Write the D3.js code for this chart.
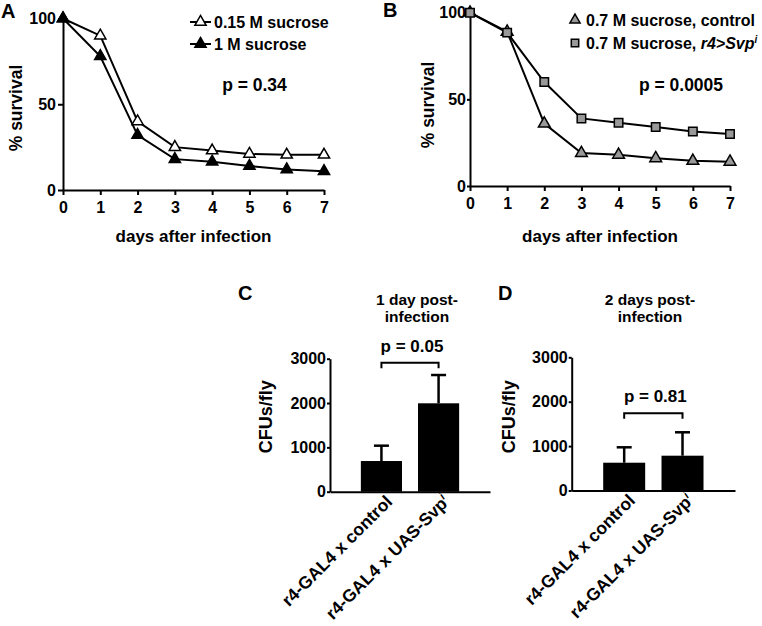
<!DOCTYPE html>
<html><head><meta charset="utf-8">
<script src="https://cdn.jsdelivr.net/npm/d3@7/dist/d3.min.js"></script>
<style>
body{margin:0;background:#fff;}
svg{display:block;font-family:"Liberation Sans",Arial,Helvetica,sans-serif;font-weight:bold;}
</style></head><body>
<svg id="c" width="762" height="626"></svg>
<script>
// ---- data ----
const days = [0,1,2,3,4,5,6,7];
const survivalTicks = [0,50,100];
const survA_015 = [100, 90, 40, 25, 23, 21, 20.5, 20.5];
const survA_1M  = [100, 78, 32, 18, 16.5, 14, 12, 11];
const survB_control = [100, 89, 36, 19, 18, 16, 14.5, 14];
const survB_svp     = [100, 88.5, 60, 39, 36.5, 34, 31.5, 30];
const barCategories = ["r4-GAL4 x control", "r4-GAL4 x UAS-Svp"];
const cfuTicks = [0,1000,2000,3000];
const cfuDay1 = [692, 1994];
const semDay1 = [346, 638];
const cfuDay2 = [626, 784];
const semDay2 = [347, 527];

const svg = d3.select("#c");
const lw = 2;
const fmt = d3.format("d");

function styleAxis(g, fs){
  g.selectAll("path,line").attr("stroke","#000").attr("stroke-width",lw);
  g.selectAll("text").attr("fill","#000").style("font-size",fs+"px").style("font-weight","bold")
   .style("font-family",'"Liberation Sans",Arial,sans-serif');
}

function survivalPanel(o){
  const x = d3.scaleLinear().domain([0,7]).range([o.x0,o.x1]);
  const y = d3.scaleLinear().domain([0,100]).range([o.y0,o.y1]);
  const g = svg.append("g");
  g.append("g").attr("transform",`translate(0,${o.y0})`)
    .call(d3.axisBottom(x).tickValues(days).tickFormat(fmt).tickSize(5).tickPadding(7).tickSizeOuter(0))
    .call(a=>styleAxis(a,16));
  g.append("g").attr("transform",`translate(${o.x0},0)`)
    .call(d3.axisLeft(y).tickValues(survivalTicks).tickFormat(fmt).tickSize(o.yts).tickPadding(o.ytp).tickSizeOuter(0))
    .call(a=>styleAxis(a,16));
  const line = d3.line().x((d,i)=>x(days[i])).y(d=>y(d));
  o.series.forEach(s=>{
    g.append("path").datum(s.values).attr("d",line).attr("fill","none").attr("stroke","#000").attr("stroke-width",lw);
  });
  o.series.forEach(s=>{
    g.selectAll(null).data(s.values).enter().append("path")
      .attr("transform",(d,i)=>`translate(${x(days[i])},${y(d)})`)
      .attr("d",d3.symbol().type(s.sym).size(s.size)())
      .attr("fill",s.fill).attr("stroke","#000").attr("stroke-width",1.5);
  });
  g.append("text").attr("x",(o.x0+o.x1)/2).attr("y",242).attr("text-anchor","middle")
    .style("font-size","17px").text("days after infection");
  g.append("text").attr("transform",`translate(${o.ylx},${o.yly}) rotate(-90)`).attr("text-anchor","middle")
    .style("font-size","17.5px").text("% survival");
  g.append("text").attr("x",o.lx).attr("y",o.ly).style("font-size","20px").text(o.letter);
  return {x,y,g};
}

const A = survivalPanel({x0:63,x1:324,y0:190,y1:18.5,yts:5,ytp:2,ylx:22,yly:108,letter:"A",lx:1,ly:18,
  series:[
    {values:survA_015,sym:d3.symbolTriangle,size:55,fill:"#fff"},
    {values:survA_1M,sym:d3.symbolTriangle,size:55,fill:"#000"}
  ]});
[[survA_015,"#fff","0.15 M sucrose",22],[survA_1M,"#000","1 M sucrose",44]].forEach(([v,f,t,cy])=>{
  A.g.append("line").attr("x1",190).attr("x2",211).attr("y1",cy).attr("y2",cy).attr("stroke","#000").attr("stroke-width",lw);
  A.g.append("path").attr("transform",`translate(200.5,${cy})`).attr("d",d3.symbol().type(d3.symbolTriangle).size(55)())
    .attr("fill",f).attr("stroke","#000").attr("stroke-width",1.5);
  A.g.append("text").attr("x",214).attr("y",cy+6).style("font-size","16px").text(t);
});
A.g.append("text").attr("x",254.5).attr("y",91).attr("text-anchor","middle").style("font-size","17.5px").text("p = 0.34");

const B = survivalPanel({x0:470,x1:730,y0:186,y1:12.7,yts:3,ytp:1,ylx:434,yly:105,letter:"B",lx:383,ly:17,
  series:[
    {values:survB_control,sym:d3.symbolTriangle,size:60,fill:"#999"},
    {values:survB_svp,sym:d3.symbolSquare,size:72,fill:"#999"}
  ]});
B.g.append("path").attr("transform","translate(575,20)").attr("d",d3.symbol().type(d3.symbolTriangle).size(45)())
  .attr("fill","#999").attr("stroke","#000").attr("stroke-width",1.5);
B.g.append("path").attr("transform","translate(575,43)").attr("d",d3.symbol().type(d3.symbolSquare).size(55)())
  .attr("fill","#999").attr("stroke","#000").attr("stroke-width",1.5);
B.g.append("text").attr("x",586).attr("y",26).style("font-size","16px").text("0.7 M sucrose, control");
{
  const t = B.g.append("text").attr("x",586).attr("y",49).style("font-size","16px");
  t.append("tspan").text("0.7 M sucrose, ");
  t.append("tspan").style("font-style","italic").text("r4>Svp");
  t.append("tspan").attr("dy",-6).style("font-size","10px").style("font-style","italic").text("i");
}
B.g.append("text").attr("x",681).attr("y",91).attr("text-anchor","middle").style("font-size","17.5px").text("p = 0.0005");

function barPanel(o){
  const x = d3.scaleBand().domain(barCategories).range([o.x0,o.x1]).paddingInner(0.28).paddingOuter(0.54);
  const y = d3.scaleLinear().domain([0,3000]).range([o.y0,o.y1]);
  const g = svg.append("g");
  o.vals.forEach((v,i)=>{
    const cx = x(barCategories[i]) + x.bandwidth()/2;
    g.append("line").attr("x1",cx).attr("x2",cx).attr("y1",y(v)).attr("y2",y(v+o.err[i])).attr("stroke","#000").attr("stroke-width",2.5);
    g.append("line").attr("x1",cx-7.5).attr("x2",cx+7.5).attr("y1",y(v+o.err[i])).attr("y2",y(v+o.err[i])).attr("stroke","#000").attr("stroke-width",2.5);
  });
  g.selectAll(null).data(o.vals).enter().append("rect")
    .attr("x",(d,i)=>x(barCategories[i])).attr("width",x.bandwidth())
    .attr("y",d=>y(d)).attr("height",d=>o.y0-y(d)).attr("fill","#000");
  const xa = g.append("g").attr("transform",`translate(0,${o.y0})`)
    .call(d3.axisBottom(x).tickSize(0).tickPadding(0).tickSizeOuter(0));
  styleAxis(xa,17.5);
  xa.selectAll("text").remove();
  barCategories.forEach((c,i)=>{
    const cx = x(c) + x.bandwidth()/2;
    const t = g.append("text").attr("text-anchor","end")
      .attr("transform",`translate(${cx+12},${o.y0+11}) rotate(-45)`).style("font-size","17.5px");
    if(i===0){ t.text(c); }
    else { t.append("tspan").text(c); t.append("tspan").attr("dy",-7).style("font-size","11px").style("font-style","italic").text("i"); }
  });
  g.append("g").attr("transform",`translate(${o.x0},0)`)
    .call(d3.axisLeft(y).tickValues(cfuTicks).tickFormat(fmt).tickSize(3).tickPadding(1).tickSizeOuter(0))
    .call(a=>styleAxis(a,16));
  const c0 = x(barCategories[0]) + x.bandwidth()/2, c1 = x(barCategories[1]) + x.bandwidth()/2;
  g.append("path").attr("d",`M${c0},${o.by+5.5}V${o.by}H${c1}V${o.by+5.5}`).attr("fill","none").attr("stroke","#000").attr("stroke-width",2);
  g.append("text").attr("x",(c0+c1)/2+2).attr("y",o.by-11).attr("text-anchor","middle").style("font-size","17px").text(o.p);
  g.append("text").attr("transform",`translate(${o.ylx},416.7) rotate(-90)`).attr("text-anchor","middle")
    .style("font-size","18px").text("CFUs/fly");
  g.append("text").attr("x",o.tx).attr("y",305).attr("text-anchor","middle").style("font-size","15.5px").text(o.t1);
  g.append("text").attr("x",o.tx).attr("y",322).attr("text-anchor","middle").style("font-size","15.5px").text("infection");
  g.append("text").attr("x",o.lx).attr("y",300).style("font-size","20px").text(o.letter);
}
barPanel({x0:330,x1:490,y0:491.7,y1:358.7,vals:cfuDay1,err:semDay1,by:362.7,p:"p = 0.05",ylx:272,tx:417,t1:"1 day post-",letter:"C",lx:238});
barPanel({x0:571.7,x1:735,y0:490.5,y1:357.3,vals:cfuDay2,err:semDay2,by:413.3,p:"p = 0.81",ylx:515,tx:650,t1:"2 days post-",letter:"D",lx:498});
</script></body></html>
